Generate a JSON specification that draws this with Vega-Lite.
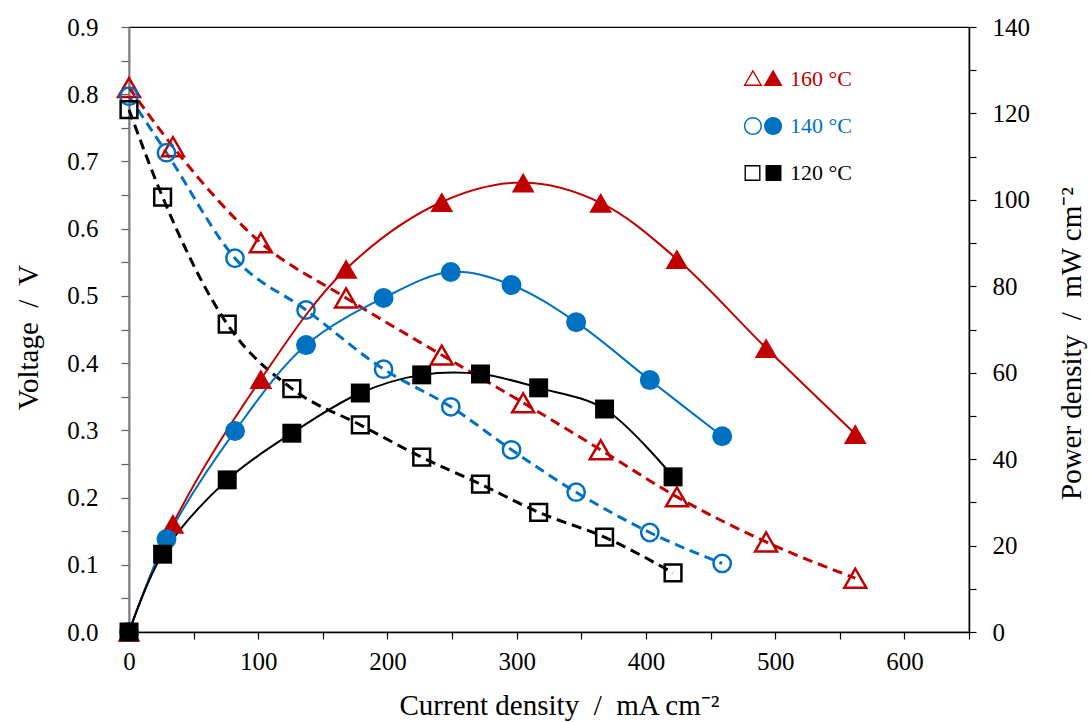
{
  "$schema": "https://vega.github.io/schema/vega-lite/v6.json",
  "width": 840,
  "height": 605,
  "autosize": {"type": "none"},
  "padding": {"left": 129, "top": 27, "right": 121, "bottom": 90},
  "background": "white",
  "config": {
    "view": {"stroke": "#000000", "strokeWidth": 1.2},
    "axis": {
      "labelFont": "Liberation Serif",
      "titleFont": "Liberation Serif",
      "labelFontSize": 25,
      "titleFontSize": 29,
      "labelColor": "#000000",
      "titleColor": "#000000",
      "titleFontWeight": "normal",
      "grid": false,
      "domainColor": "#000000",
      "tickColor": "#000000",
      "domainWidth": 1.5,
      "tickWidth": 1.2,
      "labelOverlap": false,
      "labelFlush": false
    },
    "legend": {
      "labelFont": "Liberation Serif",
      "labelFontSize": 22
    }
  },
  "data": {
    "values": [
      {"temp": "160 °C", "j": 0, "V": 0.81, "P": 0},
      {"temp": "160 °C", "j": 34, "V": 0.722, "P": 25},
      {"temp": "160 °C", "j": 102, "V": 0.579, "P": 58.5},
      {"temp": "160 °C", "j": 168, "V": 0.497, "P": 84},
      {"temp": "160 °C", "j": 242, "V": 0.412, "P": 99.5},
      {"temp": "160 °C", "j": 305, "V": 0.341, "P": 104},
      {"temp": "160 °C", "j": 365, "V": 0.271, "P": 99.3},
      {"temp": "160 °C", "j": 424, "V": 0.201, "P": 86.3},
      {"temp": "160 °C", "j": 493, "V": 0.134, "P": 65.7},
      {"temp": "160 °C", "j": 562, "V": 0.080, "P": 45.8},
      {"temp": "140 °C", "j": 0, "V": 0.797, "P": 0},
      {"temp": "140 °C", "j": 29, "V": 0.713, "P": 21.5},
      {"temp": "140 °C", "j": 82, "V": 0.556, "P": 46.5},
      {"temp": "140 °C", "j": 137, "V": 0.479, "P": 66.4},
      {"temp": "140 °C", "j": 197, "V": 0.391, "P": 77.3},
      {"temp": "140 °C", "j": 249, "V": 0.335, "P": 83.3},
      {"temp": "140 °C", "j": 296, "V": 0.271, "P": 80.3},
      {"temp": "140 °C", "j": 346, "V": 0.208, "P": 71.7},
      {"temp": "140 °C", "j": 403, "V": 0.148, "P": 58.3},
      {"temp": "140 °C", "j": 459, "V": 0.102, "P": 45.3},
      {"temp": "120 °C", "j": 0, "V": 0.777, "P": 0},
      {"temp": "120 °C", "j": 26, "V": 0.647, "P": 18},
      {"temp": "120 °C", "j": 76, "V": 0.458, "P": 35.2},
      {"temp": "120 °C", "j": 126, "V": 0.362, "P": 46},
      {"temp": "120 °C", "j": 179, "V": 0.308, "P": 55.3},
      {"temp": "120 °C", "j": 226.5, "V": 0.260, "P": 59.5},
      {"temp": "120 °C", "j": 272, "V": 0.220, "P": 59.7},
      {"temp": "120 °C", "j": 317, "V": 0.178, "P": 56.5},
      {"temp": "120 °C", "j": 368, "V": 0.141, "P": 51.6},
      {"temp": "120 °C", "j": 421, "V": 0.088, "P": 35.9}
    ]
  },
  "encoding": {
    "x": {
      "field": "j",
      "type": "quantitative",
      "scale": {"domain": [0, 650], "nice": false, "zero": false},
      "axis": {
        "title": "Current density\u00a0 /\u00a0 mA cm⁻²",
        "values": [0, 50, 100, 150, 200, 250, 300, 350, 400, 450, 500, 550, 600, 650],
        "labelExpr": "datum.value % 100 == 0 ? datum.label : ''",
        "tickSize": 7,
        "labelPadding": 10,
        "titleX": 430,
        "titleY": 82,
        "titleBaseline": "alphabetic"
      }
    },
    "color": {
      "field": "temp",
      "type": "nominal",
      "scale": {"domain": ["160 °C", "140 °C", "120 °C"], "range": ["#C00000", "#0070C0", "#000000"]},
      "legend": {
        "title": null,
        "orient": "none",
        "legendX": 613,
        "legendY": 31,
        "direction": "vertical",
        "symbolSize": 1764,
        "labelOffset": 6,
        "rowPadding": 15,
        "padding": 0,
        "labelFontSize": 22,
        "labelFont": "Liberation Serif",
        "encode": {
          "symbols": {
            "update": {
              "shape": {"signal": "datum.value === '160 °C' ? 'M-0.48,-0.45L-0.03,0.33L-0.93,0.33ZM-0.48,-0.32L-0.8175,0.265L-0.1425,0.265ZM0.48,-0.45L0.93,0.33L0.03,0.33Z' : datum.value === '140 °C' ? 'M-0.05,0A0.43,0.43,0,1,1,-0.91,0A0.43,0.43,0,1,1,-0.05,0ZM-0.12,0A0.36,0.36,0,1,0,-0.84,0A0.36,0.36,0,1,0,-0.12,0ZM0.91,0A0.43,0.43,0,1,1,0.05,0A0.43,0.43,0,1,1,0.91,0Z' : 'M-0.88,-0.38L-0.12,-0.38L-0.12,0.38L-0.88,0.38ZM-0.815,-0.315L-0.815,0.315L-0.185,0.315L-0.185,-0.315ZM0.12,-0.38L0.88,-0.38L0.88,0.38L0.12,0.38Z'"},
              "fill": {"signal": "datum.value === '160 °C' ? '#C00000' : datum.value === '140 °C' ? '#0070C0' : '#000000'"},
              "stroke": {"value": "transparent"},
              "strokeWidth": {"value": 0},
              "strokeDash": {"value": []},
              "opacity": {"value": 1},
              "fillOpacity": {"value": 1}
            }
          },
          "labels": {
            "update": {
              "fill": {"signal": "datum.value === '160 °C' ? '#C00000' : datum.value === '140 °C' ? '#0070C0' : '#000000'"}
            }
          }
        }
      }
    }
  },
  "layer": [
    {
      "encoding": {
        "y": {
          "field": "V",
          "type": "quantitative",
          "scale": {"domain": [0, 0.9], "nice": false},
          "axis": {
            "orient": "left",
            "title": "Voltage\u00a0 /\u00a0 V",
            "values": [0, 0.05, 0.1, 0.15, 0.2, 0.25, 0.3, 0.35, 0.4, 0.45, 0.5, 0.55, 0.6, 0.65, 0.7, 0.75, 0.8, 0.85, 0.9],
            "labelExpr": "round(datum.value * 100) % 10 == 0 ? format(datum.value, '.1f') : ''",
            "tickSize": 8,
            "labelPadding": 23,
            "domainColor": "#808080",
            "domainWidth": 2,
            "tickColor": "#606060",
            "titleAngle": -90,
            "titleX": -92,
            "titleY": 310,
            "titleBaseline": "alphabetic",
            "titleAlign": "center"
          }
        }
      },
      "layer": [
        {
          "mark": {"type": "line", "strokeWidth": 3, "strokeDash": [10, 6], "interpolate": "monotone", "clip": false}
        },
        {
          "transform": [{"filter": "datum.temp === '160 °C'"}],
          "mark": {"type": "point", "shape": "triangle-up", "size": 480, "filled": false, "strokeWidth": 2.5, "opacity": 1, "clip": false}
        },
        {
          "transform": [{"filter": "datum.temp === '140 °C'"}],
          "mark": {"type": "point", "shape": "circle", "size": 300, "filled": false, "strokeWidth": 2.5, "opacity": 1, "clip": false}
        },
        {
          "transform": [{"filter": "datum.temp === '120 °C'"}],
          "mark": {"type": "point", "shape": "square", "size": 280, "filled": false, "strokeWidth": 2.5, "opacity": 1, "clip": false}
        }
      ]
    },
    {
      "encoding": {
        "y": {
          "field": "P",
          "type": "quantitative",
          "scale": {"domain": [0, 140], "nice": false},
          "axis": {
            "orient": "right",
            "title": "Power density\u00a0 /\u00a0 mW cm⁻²",
            "values": [0, 10, 20, 30, 40, 50, 60, 70, 80, 90, 100, 110, 120, 130, 140],
            "labelExpr": "datum.value % 20 == 0 ? datum.label : ''",
            "tickSize": 7,
            "labelPadding": 16,
            "titleAngle": -90,
            "titleX": 111,
            "titleY": 316,
            "titleBaseline": "alphabetic",
            "titleAlign": "center"
          }
        }
      },
      "layer": [
        {
          "mark": {"type": "line", "strokeWidth": 2, "interpolate": "catmull-rom", "clip": false}
        },
        {
          "transform": [{"filter": "datum.temp === '160 °C'"}],
          "mark": {"type": "point", "shape": "triangle-up", "size": 520, "filled": true, "opacity": 1, "clip": false}
        },
        {
          "transform": [{"filter": "datum.temp === '140 °C'"}],
          "mark": {"type": "point", "shape": "circle", "size": 400, "filled": true, "opacity": 1, "clip": false}
        },
        {
          "transform": [{"filter": "datum.temp === '120 °C'"}],
          "mark": {"type": "point", "shape": "square", "size": 360, "filled": true, "opacity": 1, "clip": false}
        }
      ]
    }
  ],
  "resolve": {"scale": {"y": "independent"}}
}
